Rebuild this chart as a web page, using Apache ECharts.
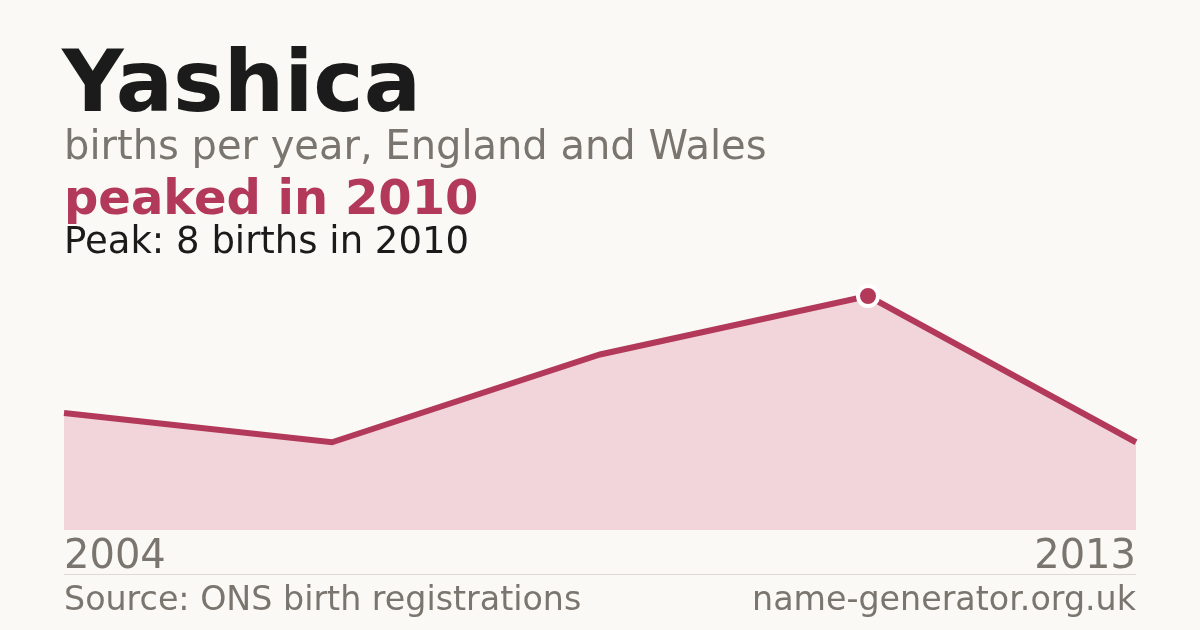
<!DOCTYPE html>
<html><head><meta charset="utf-8">
<script src="https://cdn.jsdelivr.net/npm/echarts@6/dist/echarts.min.js"></script>
<style>html,body{margin:0;padding:0;background:#faf9f5;}#c{width:1200px;height:630px;}</style>
</head><body><div id="c"></div>
<script>
const years = ['2004', '2006', '2008', '2010', '2013'];
const births = [4, 3, 6, 8, 3];
const nameText = 'Yashica';
const subtitleText = 'births per year, England and Wales';
const headlineText = 'peaked in 2010';
const peakText = 'Peak: 8 births in 2010';
const sourceText = 'Source: ONS birth registrations';
const siteText = 'name-generator.org.uk';

const RED = '#b3395a';
const GRAY = '#7a756e';
const FONT = '"DejaVu Sans", sans-serif';
const peakIdx = births.indexOf(Math.max(...births));

const chart = echarts.init(document.getElementById('c'), null, {renderer: 'canvas'});
chart.setOption({
  backgroundColor: '#faf9f5',
  animation: false,
  title: [
    {text: nameText, left: 62, top: 46, textStyle: {fontFamily: FONT, fontSize: 85, lineHeight: 85, fontWeight: 'bold', color: '#1b1b1b'}, padding: 0},
    {text: subtitleText, left: 64, top: 129, textStyle: {fontFamily: FONT, fontSize: 40, lineHeight: 40, fontWeight: 'normal', color: GRAY}, padding: 0},
    {text: headlineText, left: 64, top: 178, textStyle: {fontFamily: FONT, fontSize: 48, lineHeight: 48, fontWeight: 'bold', color: RED}, padding: 0},
    {text: peakText, left: 64, top: 225, textStyle: {fontFamily: FONT, fontSize: 37, lineHeight: 37, fontWeight: 'normal', color: '#1b1b1b'}, padding: 0},
    {text: sourceText, left: 64, top: 585, textStyle: {fontFamily: FONT, fontSize: 33.3, lineHeight: 33, fontWeight: 'normal', color: GRAY}, padding: 0},
    {text: siteText, right: 64, top: 585, textStyle: {fontFamily: FONT, fontSize: 33.3, lineHeight: 33, fontWeight: 'normal', color: GRAY}, padding: 0}
  ],
  grid: {left: 64, right: 64, top: 296, bottom: 100},
  xAxis: {
    type: 'category', data: years, boundaryGap: false,
    axisLine: {show: false}, axisTick: {show: false}, splitLine: {show: false},
    axisLabel: {
      interval: 0, margin: 8, fontFamily: FONT, fontSize: 40, lineHeight: 40, color: GRAY,
      verticalAlign: 'top',
      alignMinLabel: 'left', alignMaxLabel: 'right',
      formatter: (v, i) => (i === 0 || i === years.length - 1) ? v : ''
    }
  },
  yAxis: {type: 'value', min: 0, max: 8, show: false, splitLine: {show: false}},
  series: [
    {
      type: 'line', data: births, symbol: 'none', smooth: false,
      lineStyle: {color: RED, width: 6, cap: 'butt', join: 'miter'},
      areaStyle: {color: '#f2d5db', opacity: 1},
      z: 2
    },
    {
      type: 'scatter',
      data: births.map((v, i) => i === peakIdx ? v : '-'),
      symbol: 'circle', symbolSize: 20,
      itemStyle: {color: RED, borderColor: '#ffffff', borderWidth: 4, opacity: 1},
      z: 5
    }
  ],
  graphic: [
    {type: 'line', shape: {x1: 64, y1: 574.5, x2: 1136, y2: 574.5}, style: {stroke: '#dedad3', lineWidth: 1}, z: 1}
  ]
});
</script></body></html>
